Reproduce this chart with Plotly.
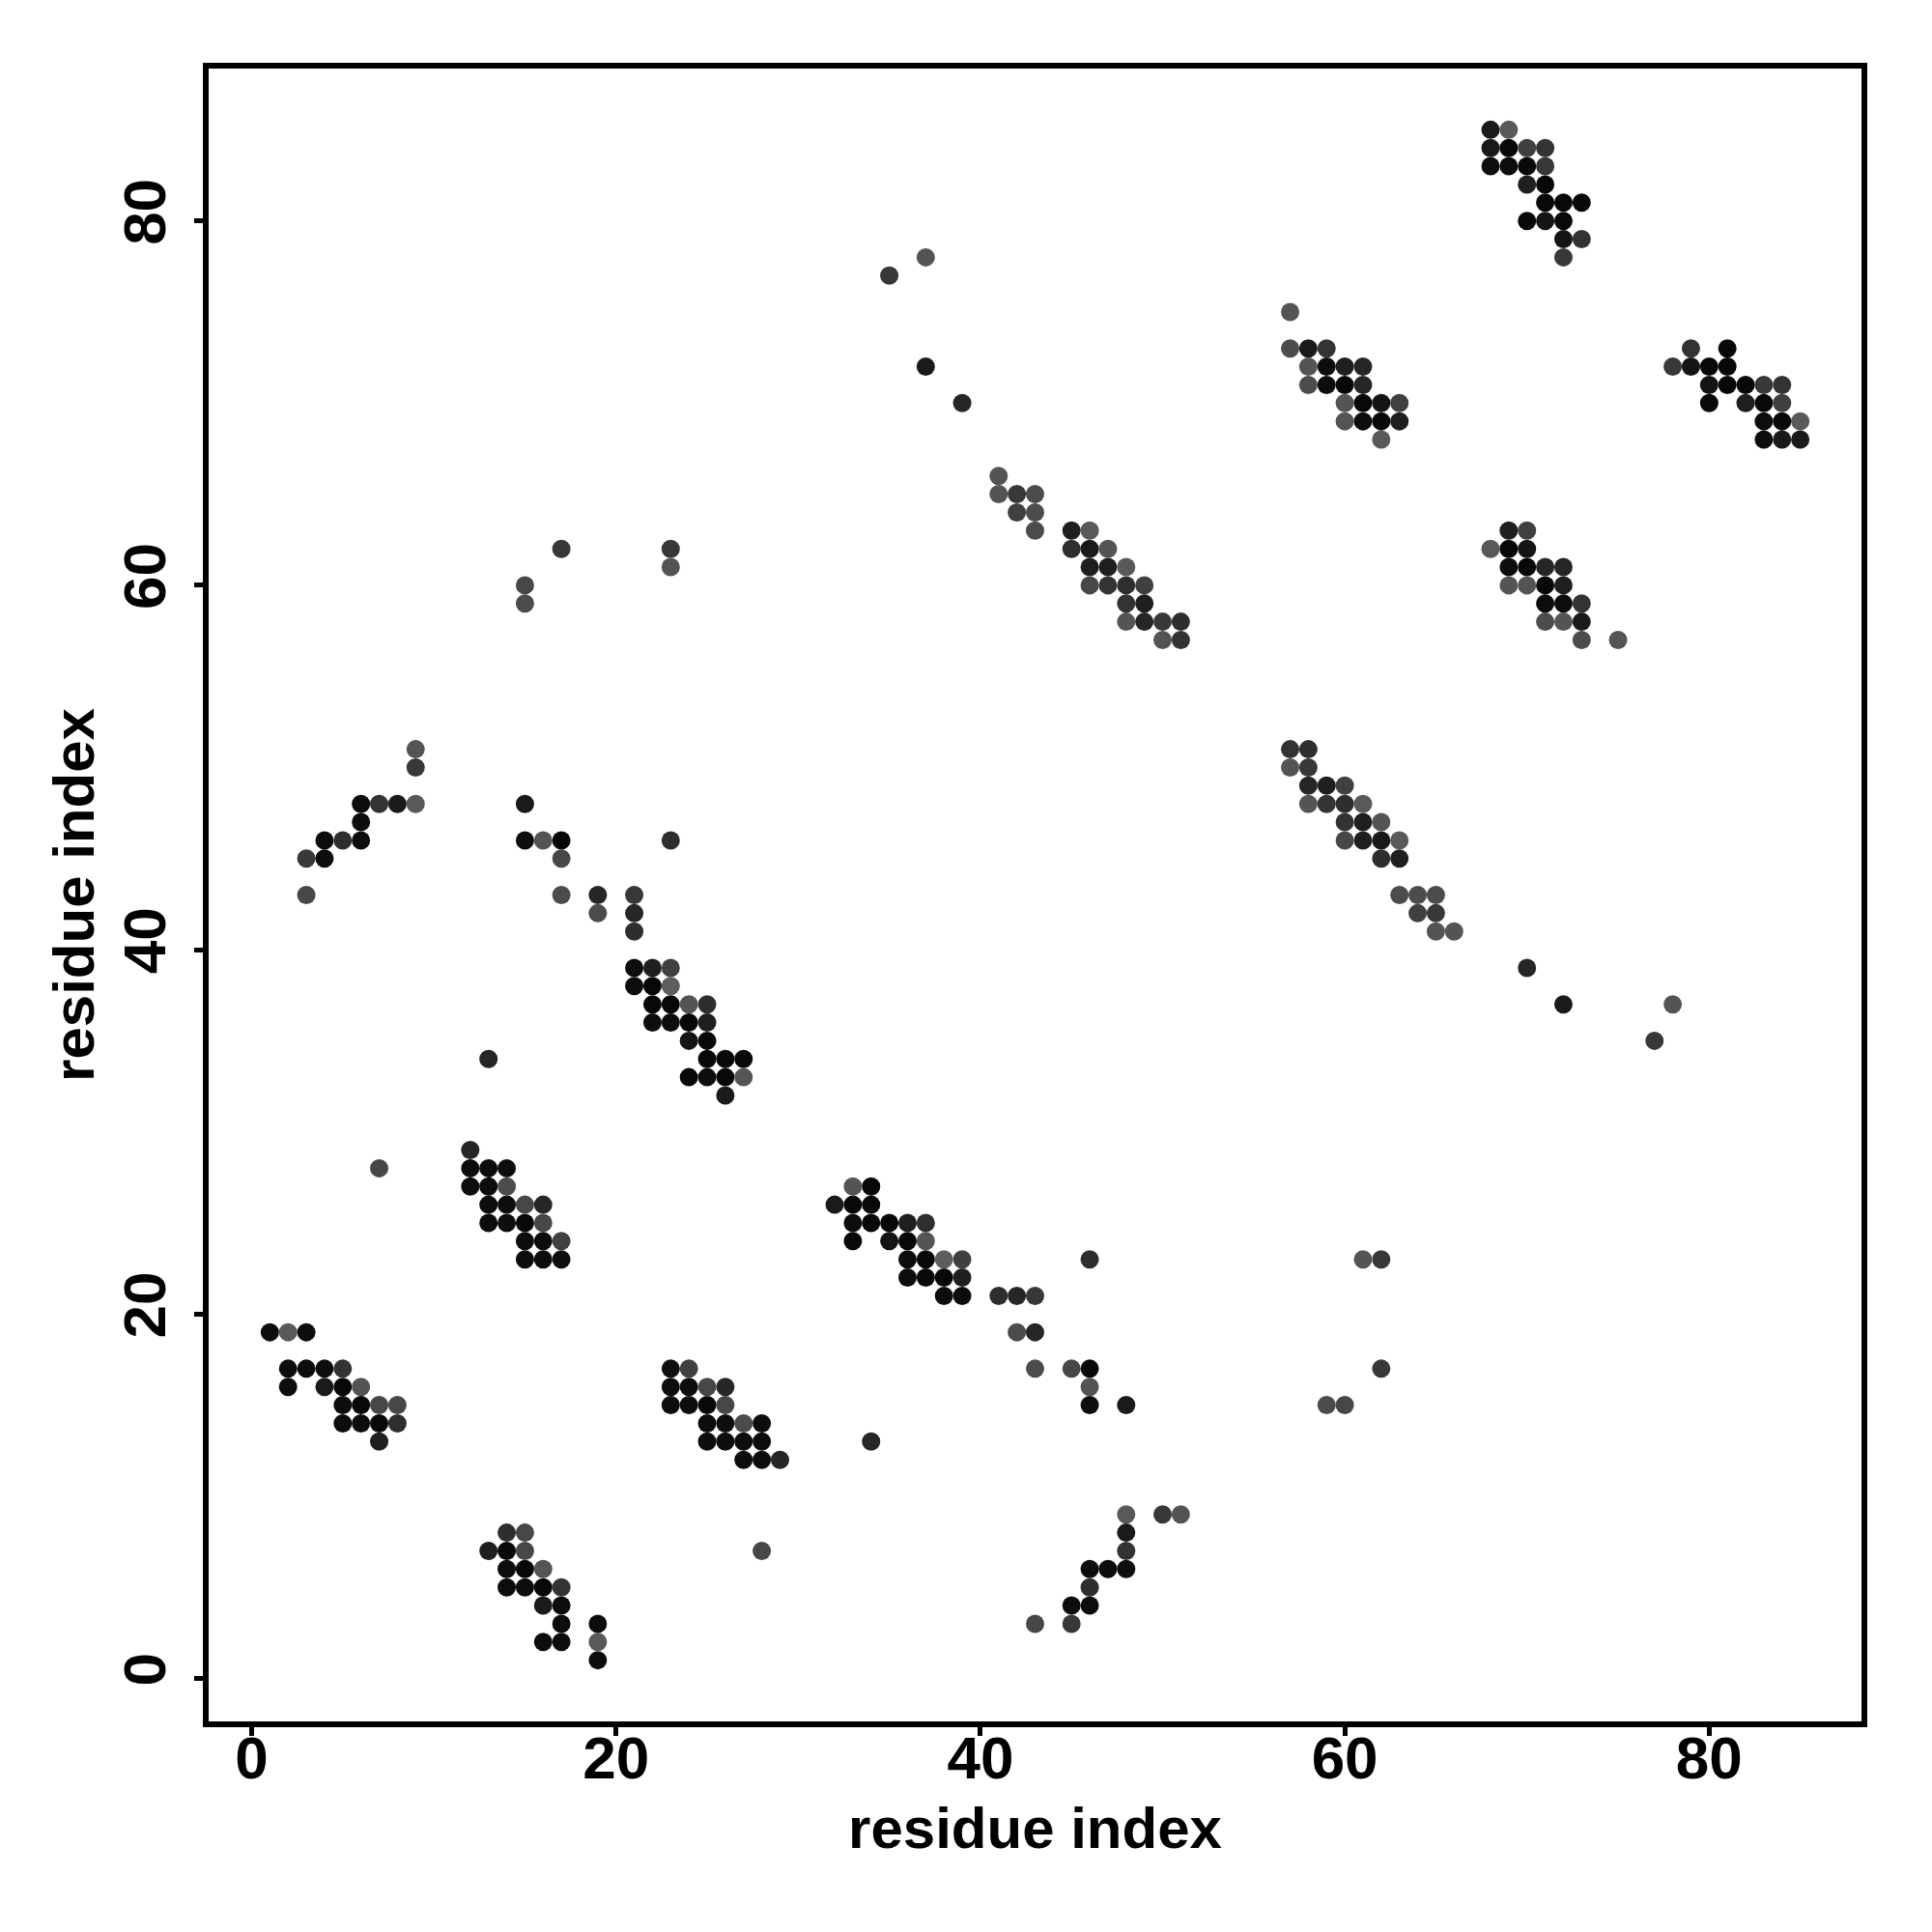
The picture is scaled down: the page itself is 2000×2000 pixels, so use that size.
import plotly.graph_objects as go

# Contact map: upper-triangle contacts (residue i on x, residue j on y, i < j)
# and grey level (0 = black, 100 = white); the map is symmetric.
res_i = [
    1, 2, 3, 2, 3, 4, 5, 2, 4, 5, 6, 5, 6, 7, 8, 5, 6, 7, 8, 7,
    13, 7, 12, 12, 13, 14, 12, 13, 14, 13, 14, 15, 16, 13, 14, 15, 16, 15, 16, 17, 15, 16, 17,
    9, 9, 6, 7, 8, 9, 6, 4, 5, 6, 3, 4, 3,
    15, 15, 16, 17, 23, 17, 17, 19, 21, 19, 21, 21, 21, 22, 23, 21, 22, 23,
    22, 23, 24, 25, 22, 23, 24, 25, 24, 25, 25, 26, 27, 24, 25, 26, 27, 26,
    17, 15, 15, 23, 23,
    41, 41, 42, 43, 42, 43, 43, 45, 46, 45, 46, 47, 46, 47, 48, 46, 47, 48, 49,
    48, 49, 48, 49, 50, 51, 50, 51,
    57, 57, 58, 59, 58, 59, 60, 61, 58, 59, 60, 61, 60, 61, 62, 63, 60, 61, 62, 63, 62,
    68, 69, 68, 69, 70, 71, 68, 69, 70, 71, 70, 71, 71, 72, 73, 70, 71, 72, 72, 73, 72,
    35, 37, 37, 39,
]
res_j = [
    19, 19, 19, 17, 17, 17, 17, 16, 16, 16, 16, 15, 15, 15, 15, 14, 14, 14, 14, 13,
    34, 28, 29, 28, 28, 28, 27, 27, 27, 26, 26, 26, 26, 25, 25, 25, 25, 24, 24, 24, 23, 23, 23,
    51, 50, 48, 48, 48, 48, 47, 46, 46, 46, 45, 45, 43,
    48, 46, 46, 46, 46, 45, 43, 43, 43, 42, 42, 41, 39, 39, 39, 38, 38, 38,
    37, 37, 37, 37, 36, 36, 36, 36, 35, 35, 34, 34, 34, 33, 33, 33, 33, 32,
    62, 60, 59, 62, 61,
    66, 65, 65, 65, 64, 64, 63, 63, 63, 62, 62, 62, 61, 61, 61, 60, 60, 60, 60,
    59, 59, 58, 58, 58, 58, 57, 57,
    75, 73, 73, 73, 72, 72, 72, 72, 71, 71, 71, 71, 70, 70, 70, 70, 69, 69, 69, 69, 68,
    85, 85, 84, 84, 84, 84, 83, 83, 83, 83, 82, 82, 81, 81, 81, 80, 80, 80, 79, 79, 78,
    77, 78, 72, 70,
]
grey = [
    5, 35, 5, 5, 5, 5, 20, 5, 10, 3, 33, 5, 3, 28, 28, 5, 5, 3, 18, 12,
    15, 28, 15, 5, 5, 5, 5, 5, 30, 5, 5, 28, 15, 5, 5, 3, 28, 5, 5, 25, 5, 5, 5,
    33, 22, 5, 20, 10, 35, 5, 5, 18, 5, 22, 5, 28,
    10, 5, 33, 3, 18, 28, 30, 15, 22, 30, 15, 18, 5, 12, 25, 5, 3, 37,
    3, 3, 33, 18, 5, 5, 3, 12, 8, 3, 3, 3, 3, 3, 5, 3, 33, 10,
    22, 28, 30, 22, 33,
    33, 33, 22, 30, 25, 30, 30, 12, 35, 18, 10, 33, 12, 12, 35, 28, 20, 18, 25,
    20, 12, 33, 15, 22, 18, 33, 20,
    33, 30, 10, 20, 33, 5, 12, 15, 30, 5, 3, 15, 33, 3, 8, 25, 33, 5, 3, 12, 35,
    10, 35, 10, 3, 25, 20, 5, 5, 3, 22, 12, 3, 3, 3, 3, 3, 8, 3, 8, 20, 22,
    22, 33, 10, 15,
]

axis_ticks = [0, 20, 40, 60, 80]
axis_title = "residue index"

# both halves of the symmetric map
xs = res_i + res_j
ys = res_j + res_i
g_all = grey + grey
colors = [f"rgb({round(2.55 * g)},{round(2.55 * g)},{round(2.55 * g)})" for g in g_all]

fig = go.Figure(
    go.Scatter(
        x=xs, y=ys, mode="markers",
        marker=dict(size=19, color=colors, line=dict(width=0)),
        hoverinfo="x+y",
    )
)

lo, hi = min(xs), max(xs)
pad = 0.04 * (hi - lo)
rng = [lo - pad, hi + pad]

font_family = "Liberation Sans, Arial, Helvetica, sans-serif"
common = dict(
    range=rng,
    tickvals=axis_ticks,
    ticks="outside",
    ticklen=9,
    tickwidth=4.5,
    tickcolor="black",
    showline=True,
    linewidth=5.5,
    linecolor="black",
    mirror=True,
    showgrid=False,
    zeroline=False,
    automargin=False,
    tickfont=dict(family=font_family, size=62, color="black", weight="bold"),
)

# the page body adds an 8 px offset, compensated in the margins
fig.update_layout(
    width=2000,
    height=2000,
    margin=dict(l=208, r=81, t=63, b=226),
    paper_bgcolor="white",
    plot_bgcolor="white",
    showlegend=False,
    xaxis=dict(
        **common,
        ticklabelstandoff=-30,
        title=dict(text=axis_title, standoff=20,
                   font=dict(family=font_family, size=60, color="black", weight="bold")),
    ),
    yaxis=dict(
        **common,
        tickangle=-90,
        ticklabelstandoff=5,
        title=dict(text=axis_title, standoff=0,
                   font=dict(family=font_family, size=60, color="black", weight="bold")),
    ),
)

fig.write_html("out.html")
